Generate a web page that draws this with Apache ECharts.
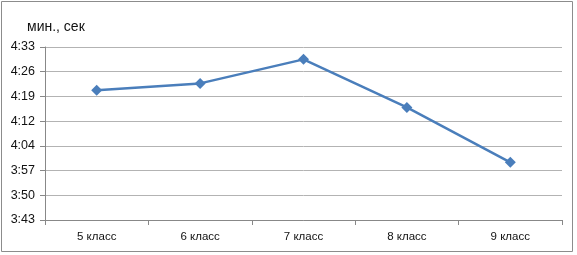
<!DOCTYPE html>
<html>
<head>
<meta charset="utf-8">
<script src="https://cdn.jsdelivr.net/npm/echarts@6/dist/echarts.min.js"></script>
<style>
html,body{margin:0;padding:0;background:#fff;}
#c{width:577px;height:255px;}
</style>
</head>
<body>
<div id="c"></div>
<script>
// Categories (school grade)
var categories = ['5 класс', '6 класс', '7 класс', '8 класс', '9 класс'];
// Times in seconds (4:21, 4:23, 4:30, 4:16, 4:00)
var timesSec = [261, 263, 270, 256, 240];
// Y axis range in seconds (Excel-style 7.2 s steps)
var yMin = 223.2, yMax = 273.6, yStep = 7.2;
var yTitle = 'мин., сек';

function fmt(v){
  var t = Math.floor(Math.round(v*10)/10 + 1e-6);
  var m = Math.floor(t/60), s = t%60;
  return m + ':' + (s<10?'0':'') + s;
}

var chart = echarts.init(document.getElementById('c'), null, {renderer:'canvas'});
chart.setOption({
  animation:false,
  backgroundColor:'#fff',
  textStyle:{fontFamily:'Liberation Sans, Arial, sans-serif'},
  graphic:[{
    type:'rect', shape:{x:1.5,y:1.5,width:571,height:250},
    style:{fill:'none', stroke:'#8c8c8c', lineWidth:1}, silent:true
  }],
  title:{
    text:yTitle, left:22, top:15,
    textStyle:{fontSize:14, fontWeight:'normal', color:'#111', fontFamily:'Liberation Sans, Arial, sans-serif'}
  },
  grid:{left:45, right:15, top:47, bottom:35, containLabel:false},
  xAxis:{
    type:'category', data:categories, boundaryGap:true,
    axisLine:{lineStyle:{color:'#888', width:1}},
    axisTick:{show:true, length:5, lineStyle:{color:'#888'}},
    axisLabel:{color:'#111', fontSize:11.5, margin:11}
  },
  yAxis:{
    type:'value', min:yMin, max:yMax, interval:yStep,
    axisLine:{show:true, lineStyle:{color:'#888'}},
    axisTick:{show:true, length:5, inside:false, lineStyle:{color:'#888'}},
    splitLine:{lineStyle:{color:'#b3b3b3', width:1}},
    axisLabel:{color:'#111', fontSize:12.5, margin:10, formatter:fmt}
  },
  series:[{
    type:'line', data:timesSec,
    symbol:'diamond', symbolSize:11,
    lineStyle:{color:'#4a7ebb', width:2.5},
    itemStyle:{color:'#4a7ebb'}
  }]
});
</script>
</body>
</html>
